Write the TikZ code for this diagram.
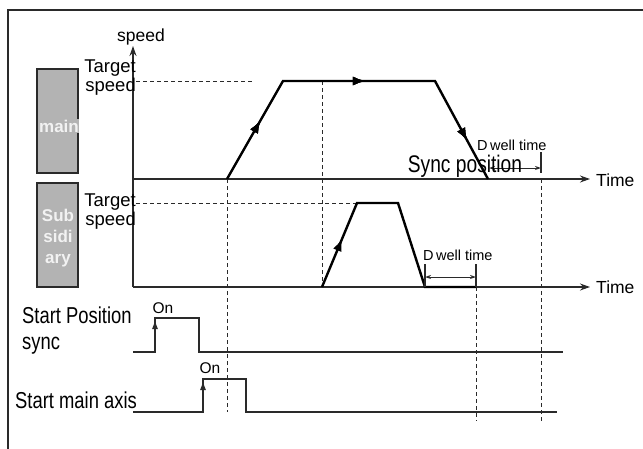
\documentclass[tikz,border=0pt]{standalone}
\usepackage{fontspec}
\setmainfont{Liberation Sans}
\newfontfamily\narrowfont[FakeStretch=0.8]{Liberation Sans}
\usetikzlibrary{arrows.meta,decorations.markings}
\definecolor{boxgray}{HTML}{B3B3B3}
\definecolor{linegray}{HTML}{2A2A2A}
\tikzset{
  axisline/.style={line width=1.2pt, draw=linegray},
  axisarrow/.style={axisline, -{Stealth[length=10pt,width=7pt]}},
  profile/.style={line width=2.4pt, black, line join=miter},
  guide/.style={line width=0.9pt, dash pattern=on 4pt off 3pt, draw=linegray},
  signal/.style={line width=1.1pt, draw=linegray},
  axisbox/.style={draw=linegray, line width=1.3pt, fill=boxgray},
  boxtext/.style={text=white!95!black, inner sep=0pt, font=\bfseries\fontsize{17}{21}\selectfont, align=center},
  smalltext/.style={inner sep=0pt, font=\fontsize{17.5}{17}\selectfont},
  dwelltext/.style={inner sep=0pt, font=\fontsize{14.5}{15}\selectfont},
  bigtext/.style={inner sep=0pt, font=\narrowfont\fontsize{23}{26}\selectfont, align=left},
  dwellarrow/.style={line width=1pt, draw=linegray, {Stealth[length=6pt,width=4pt]}-{Stealth[length=6pt,width=4pt]}},
  midarrows/.style={postaction={decorate}, decoration={markings,
      mark=at position #1 with {\arrow{Latex[length=13pt,width=9pt]}}}},
  uparrow/.style={signal, -{Latex[length=9pt,width=6pt]}},
}
\begin{document}
\begin{tikzpicture}[x=1pt,y=-1pt]
\useasboundingbox (0,0) rectangle (643,448);
% frame
\draw[line width=1.2pt, draw=linegray] (8,460) -- (8,10) -- (660,10);

% axis boxes
\node[axisbox, minimum width=41pt, minimum height=104pt, inner sep=0pt] (mainbox) at (57.5,121) {};
\node[boxtext, fill=boxgray, inner ysep=1pt] (maintxt) at (59,126) {main};
\node[axisbox, minimum width=41pt, minimum height=104pt, inner sep=0pt] (subbox) at (57.5,235) {};
\node[boxtext] (subtxt) at (58,238) {Sub\\sidi\\ary};

% coordinates
\coordinate (org) at (133,287);
\coordinate (vtop) at (133,46);
\coordinate (t1s) at (133,179);
\coordinate (t1e) at (590,179);
\coordinate (t2e) at (590,287);

% axes
\draw[axisarrow] (org) -- (vtop);
\draw[axisarrow] (t1s) -- (t1e);
\draw[axisarrow] (org) -- (t2e);
\node[smalltext] (speedlbl) at (141,37) {speed};
\node[smalltext, anchor=west] (time1) at (596,180) {Time};
\node[smalltext, anchor=west] (time2) at (596,287) {Time};

% target speed labels
\node[smalltext, font=\fontsize{18.5}{16.5}\selectfont, align=right, anchor=north east] (ts1) at (136,60) {Target\\speed};
\node[smalltext, font=\fontsize{18.5}{16.5}\selectfont, align=right, anchor=north east] (ts2) at (136,194) {Target\\speed};

% dashed guides
\draw[guide] (136,81) -- (253,81);
\draw[guide] (136,203) -- (357,203);
\draw[guide] (227,179) -- (227,412);
\draw[guide] (322,81) -- (322,287);
\draw[guide] (476,287) -- (476,421);
\draw[guide] (541,179) -- (541,421);

% main profile
\coordinate (m0) at (227,179);
\coordinate (m1) at (283,81);
\coordinate (m2) at (435,81);
\coordinate (m3) at (488,179);
\draw[profile, midarrows=0.18, midarrows=0.52, midarrows=0.885] (m0) -- (m1) -- (m2) -- (m3);

% sub profile
\coordinate (s0) at (322,287);
\coordinate (s1) at (357,203);
\coordinate (s2) at (398,203);
\coordinate (s3) at (425,287);
\coordinate (s4) at (476,287);
\draw[profile, midarrows=0.195] (s0) -- (s1) -- (s2) -- (s3) -- (s4);

% main dwell time
\draw[signal] (541,152) -- (541,173);
\coordinate (md1) at (489,168);
\coordinate (md2) at (541,168);
\draw[dwellarrow] (md1) -- (md2);
\node[dwelltext, anchor=base west] (dw1) at (477,150) {D\,well time};
\node[inner sep=0pt, font=\narrowfont\fontsize{24}{26}\selectfont, anchor=base] (syncpos) at (465,172) {Sync position};

% sub dwell time
\draw[signal] (425,264) -- (425,287);
\draw[signal] (476,264) -- (476,287);
\draw[dwellarrow] (425,277) -- (476,277);
\node[dwelltext, anchor=base west] (dw2) at (423,260) {D\,well time};

% Start Position sync signal
\coordinate (a0) at (133,352);
\coordinate (a1) at (155,352);
\coordinate (a2) at (155,318);
\coordinate (a3) at (199,318);
\coordinate (a4) at (199,352);
\coordinate (a5) at (563,352);
\draw[signal] (a0) -- (a1) -- (a2) -- (a3) -- (a4) -- (a5);
\draw[uparrow] (a1) -- (155,320);
\node[smalltext, font=\fontsize{15.5}{15}\selectfont] (on1) at (163,308) {On};
\node[bigtext, anchor=base west] (sps) at (22,323) {Start Position};
\node[bigtext, anchor=base west] (sps2) at (22,349) {sync};

% Start main axis signal
\coordinate (b0) at (133,412);
\coordinate (b1) at (203,412);
\coordinate (b2) at (203,379);
\coordinate (b3) at (246,379);
\coordinate (b4) at (246,412);
\coordinate (b5) at (557,412);
\draw[signal] (b0) -- (b1) -- (b2) -- (b3) -- (b4) -- (b5);
\draw[uparrow] (b1) -- (203,381);
\node[smalltext, font=\fontsize{15.5}{15}\selectfont] (on2) at (210,368) {On};
\node[bigtext, anchor=base west] (sma) at (15,408) {Start main axis};
\end{tikzpicture}
\end{document}
